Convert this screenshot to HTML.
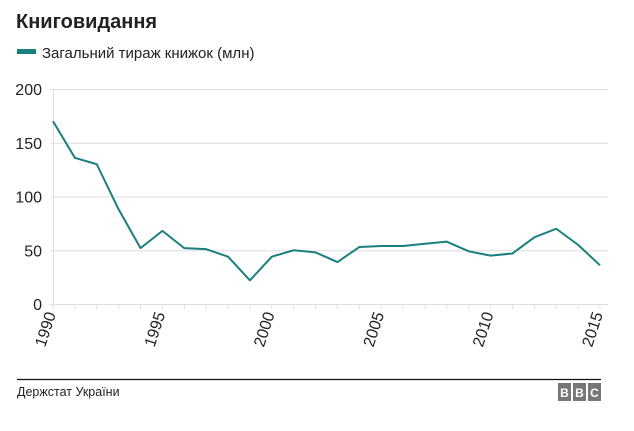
<!DOCTYPE html><html><head><meta charset="utf-8"><style>
body{margin:0;background:#fff;width:634px;height:426px;overflow:hidden;font-family:"Liberation Sans",sans-serif}
</style></head><body>
<svg width="634" height="426" xmlns="http://www.w3.org/2000/svg" font-family="Liberation Sans, sans-serif">
<text x="16" y="28" font-size="20" font-weight="bold" fill="#222">Книговидання</text>
<rect x="17" y="49" width="19" height="5" fill="#1a7f7f"/>
<text x="42" y="58" font-size="15" fill="#222">Загальний тираж книжок (млн)</text>
<g id="grid" stroke="#ddd" stroke-width="1"></g>
<g id="lbl" font-size="16" fill="#222" text-anchor="end"></g>
<polyline id="line" fill="none" stroke="#1a7f7f" stroke-width="2" stroke-linejoin="round"/>
<line x1="17" y1="379.5" x2="601" y2="379.5" stroke="#111" stroke-width="1.2"/>
<text x="17" y="396" font-size="12.5" fill="#222">Держстат України</text>
<g fill="#777"><rect x="558" y="383" width="13" height="18"/><rect x="573" y="383" width="13" height="18"/><rect x="588" y="383" width="13" height="18"/></g>
<g fill="#fff" font-size="12" font-weight="bold" text-anchor="middle"><text x="564.5" y="397">B</text><text x="579.5" y="397">B</text><text x="594.5" y="397">C</text></g>
</svg>
<script>
var ns="http://www.w3.org/2000/svg",g=document.getElementById("grid"),l=document.getElementById("lbl");
function X(y){return 53+(y-1990)*21.88}function Y(v){return 304-v*1.075}
function el(p,t,a,txt){var e=document.createElementNS(ns,t);for(var k in a)e.setAttribute(k,a[k]);if(txt)e.textContent=txt;p.appendChild(e);return e}
for(var v=0;v<=200;v+=50){el(g,"line",{x1:50,x2:608,y1:Y(v)+.5,y2:Y(v)+.5});el(l,"text",{x:42,y:Y(v)+6},String(v))}
el(g,"line",{x1:53.5,x2:53.5,y1:89,y2:304});
for(var y=1990;y<=2015;y++){el(g,"line",{x1:X(y),x2:X(y),y1:304,y2:309});if(y%5==0){el(l,"text",{x:0,y:0,transform:"translate("+(X(y)+3)+",314) rotate(-72)"},String(y))}}
var d=[170,136,130,88,52,68,52,51,44,22,44,50,48,39,53,54,54,56,58,49,45,47,62,70,55,36];
document.getElementById("line").setAttribute("points",d.map(function(v,i){return X(1990+i)+","+Y(v)}).join(" "));
</script>
</body></html>
